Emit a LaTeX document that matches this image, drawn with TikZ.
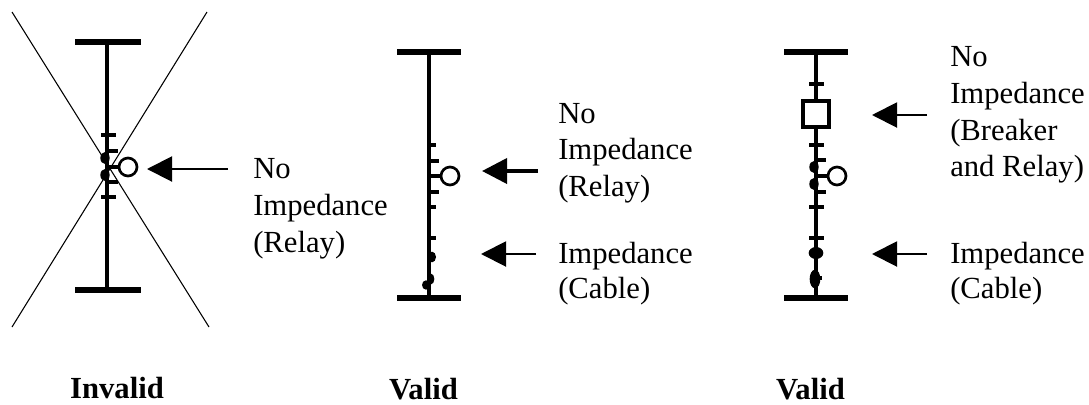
\documentclass[tikz,border=0pt]{standalone}
\usepackage{fontspec}
\setmainfont{Liberation Serif}
\usetikzlibrary{arrows.meta,shapes.geometric}
\tikzset{
  bus/.style={line width=4.5pt},
  stem/.style={line width=3.5pt},
  tickmark/.style={line width=3.2pt},
  relay/.style={circle,draw,line width=2pt,minimum size=13.5pt,inner sep=0pt,fill=white},
  breaker/.style={rectangle,draw,line width=2.6pt,minimum size=19.3pt,inner sep=0pt,fill=white},
  crossline/.style={line width=0.8pt},
  pointer/.style={line width=1.5pt,-{Triangle[length=18.75pt,width=18.75pt]}},
  lab/.style={anchor=base west,inner sep=0pt,font=\fontsize{23}{26}\selectfont},
  captext/.style={anchor=base,inner sep=0pt,font=\fontsize{23}{26}\selectfont\bfseries},
  blob/.style={fill,ellipse,minimum width=7pt,minimum height=9pt,inner sep=0pt}
}
\begin{document}
\begin{tikzpicture}[x=0.75pt,y=-0.75pt]
\useasboundingbox (0,0) rectangle (1089,404);
% left diagram
\coordinate (xa) at (12,12); \coordinate (xb) at (209,327);
\coordinate (xc) at (207,12); \coordinate (xd) at (12,327);
\draw[crossline] (xa) -- (xb);
\draw[crossline] (xc) -- (xd);
\coordinate (lt) at (107,42); \coordinate (lb) at (107,290);
\draw[bus] (75,42) -- (141,42);
\draw[bus] (75,290) -- (141,290);
\draw[stem] (lt) -- (lb);
\foreach \y in {135,197} \draw[tickmark] (101,\y) -- (116,\y);
\draw[tickmark] (107,151) -- (118,151);
\draw[tickmark] (107,182) -- (118,182);
\node[blob] at (105,158) {};
\node[blob] at (105,175) {};
\node[relay] (r1) at (128,167) {};
\draw[tickmark] (107,167) -- (r1);
% middle diagram
\coordinate (mt) at (429,52); \coordinate (mb) at (429,298);
\draw[bus] (397,52) -- (461,52);
\draw[bus] (397,298) -- (461,298);
\draw[stem] (mt) -- (mb);
\foreach \y/\e in {145/436,161/439,192/439,207/436,238/436} \draw[tickmark] (429,\y) -- (\e,\y);
\node[relay] (r2) at (450,176) {};
\draw[tickmark] (429,176) -- (r2);
\node[blob,minimum width=6pt,minimum height=8pt] at (432,257) {};
\node[blob,minimum width=6pt,minimum height=7pt] at (426,285) {};
\node[blob,minimum width=5pt,minimum height=8pt] at (431,279) {};
% right diagram
\coordinate (rt) at (816,52); \coordinate (rb) at (816,298);
\draw[bus] (784,52) -- (848,52);
\draw[bus] (784,298) -- (848,298);
\draw[stem] (rt) -- (rb);
\node[breaker] (b3) at (816,114) {};
\foreach \y in {84,145,207,238} \draw[tickmark] (809,\y) -- (824,\y);
\foreach \y in {160,192} \draw[tickmark] (816,\y) -- (826,\y);
\node[blob] at (814,167) {};
\node[blob] at (814,184) {};
\node[blob,minimum width=11pt,minimum height=9pt] at (816,253) {};
\node[blob,minimum width=8pt,minimum height=14pt] at (815,279) {};
\draw[tickmark] (816,278) -- (822,278);
\node[relay] (r3) at (837,176) {};
\draw[tickmark] (816,176) -- (r3);
% labels
\node[lab] (t1a) at (253,178) {No};
\node[lab] (t1b) at (253,215) {Impedance};
\node[lab] (t1c) at (253,252) {(Relay)};
\node[lab] (t2a) at (558,123) {No};
\node[lab] (t2b) at (558,159) {Impedance};
\node[lab] (t2c) at (558,196) {(Relay)};
\node[lab] (t2d) at (558,263) {Impedance};
\node[lab] (t2e) at (558,298) {(Cable)};
\node[lab] (t3a) at (950,66) {No};
\node[lab] (t3b) at (950,103) {Impedance};
\node[lab] (t3c) at (950,140) {(Breaker};
\node[lab] (t3d) at (950,176) {and Relay)};
\node[lab] (t3e) at (950,263) {Impedance};
\node[lab] (t3f) at (950,298) {(Cable)};
\node[captext] (c1) at (117,398) {Invalid};
\node[captext] (c2) at (423.5,399) {Valid};
\node[captext] (c3) at (810.5,399) {Valid};
% pointers
\coordinate (a1s) at (228,169); \coordinate (a1e) at (147,169);
\coordinate (a2s) at (538,171); \coordinate (a2e) at (482,171);
\coordinate (a3s) at (536,254); \coordinate (a3e) at (481,254);
\coordinate (a4s) at (927,115); \coordinate (a4e) at (872,115);
\coordinate (a5s) at (927,254); \coordinate (a5e) at (872,254);
\draw[pointer] (a1s) -- (a1e);
\draw[pointer,line width=2.8pt] (a2s) -- (a2e);
\draw[pointer] (a3s) -- (a3e);
\draw[pointer] (a4s) -- (a4e);
\draw[pointer] (a5s) -- (a5e);
\end{tikzpicture}
\end{document}
